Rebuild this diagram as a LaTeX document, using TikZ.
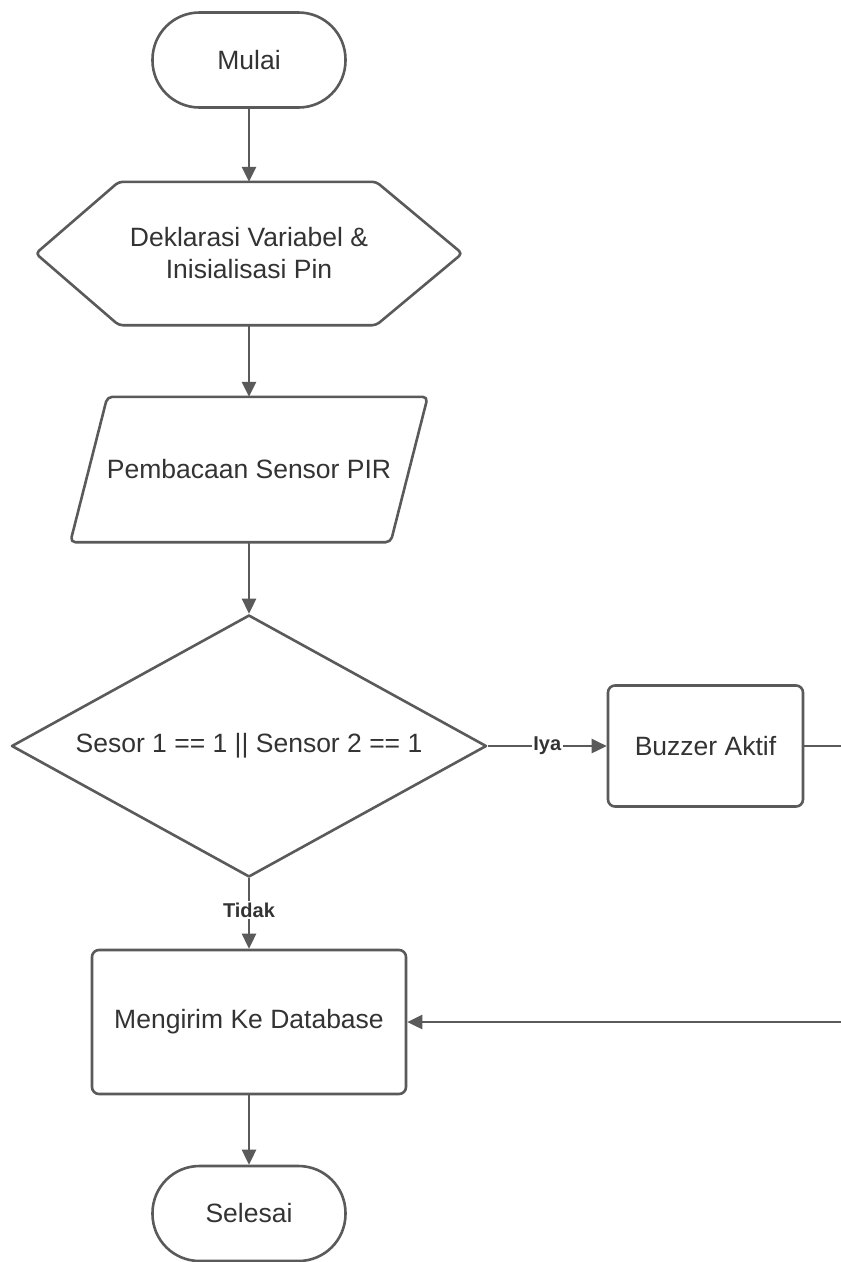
\documentclass[tikz,border=0pt]{standalone}
\usepackage{fontspec}
\setmainfont{Liberation Sans}
\usetikzlibrary{arrows.meta,calc,shapes.geometric}
\definecolor{lc}{HTML}{5A5A5A}
\definecolor{tc}{HTML}{333333}
\begin{document}
\begin{tikzpicture}[x=1pt,y=-1pt,
  shapeline/.style={draw=lc, line width=2.6pt, fill=white, line join=round},
  txt/.style={text=tc, font=\fontsize{26.5}{32}\selectfont, align=center, inner sep=0pt},
  box/.style={txt, shapeline},
  term/.style={box, rounded corners=47pt, minimum width=193pt, minimum height=95pt},
  proc/.style={box, rounded corners=7pt},
  lbl/.style={font=\bfseries\fontsize{20}{22}\selectfont, text=tc, fill=white, inner sep=1.5pt},
  arr/.style={draw=lc, line width=2.6pt, -{Triangle[length=15pt,width=14pt]}}
]
\useasboundingbox (0,0) rectangle (841,1262);
\clip (0,0) rectangle (841,1262);
\fill[white] (0,0) rectangle (841,1262);

% start
\node[term] (start) at (249,60) {Mulai};

% declaration (hexagon)
\node[txt, minimum width=426pt, minimum height=143pt] (decl) at (249,253.5) {};
\draw[shapeline, rounded corners=4pt] (decl.west) -- ($(decl.north west)+(83,0)$) -- ($(decl.north east)+(-86,0)$) -- (decl.east) -- ($(decl.south east)+(-86,0)$) -- ($(decl.south west)+(83,0)$) -- cycle;
\node[txt] at (decl.center) {Deklarasi Variabel \&\\Inisialisasi Pin};

% input (parallelogram)
\node[txt, minimum width=357pt, minimum height=145pt] (read) at (249,469.5) {};
\draw[shapeline, rounded corners=5pt] ($(read.north west)+(37,0)$) -- (read.north east) -- ($(read.south east)+(-37,0)$) -- (read.south west) -- cycle;
\node[txt] at (read.center) {Pembacaan Sensor PIR};

% decision
\node[box, shape=diamond, aspect=1.81, minimum width=475pt, minimum height=262pt] (dec) at (249,746) {Sesor 1 == 1 || Sensor 2 == 1};

% buzzer
\node[proc, minimum width=195pt, minimum height=121pt] (buz) at (705.5,746) {Buzzer Aktif};

% database
\node[proc, minimum width=314pt, minimum height=144pt] (db) at (249,1022) {Mengirim Ke Database};

% end
\node[term] (stop) at (249,1213.5) {Selesai};

\coordinate (c1) at (880,746);
\coordinate (c2) at (880,1022);

\draw[arr] (start) -- (decl.north);
\draw[arr] (decl.south) -- (read.north);
\draw[arr] (read.south) -- (dec.north);
\draw[arr] (dec.east) -- node[lbl]{Iya} (buz.west);
\draw[arr] (dec.south) -- node[lbl, pos=0.45]{Tidak} (db.north);
\draw[arr] (buz.east) -- (c1) -- (c2) -- (db.east);
\draw[arr] (db.south) -- (stop.north);
\end{tikzpicture}
\end{document}
